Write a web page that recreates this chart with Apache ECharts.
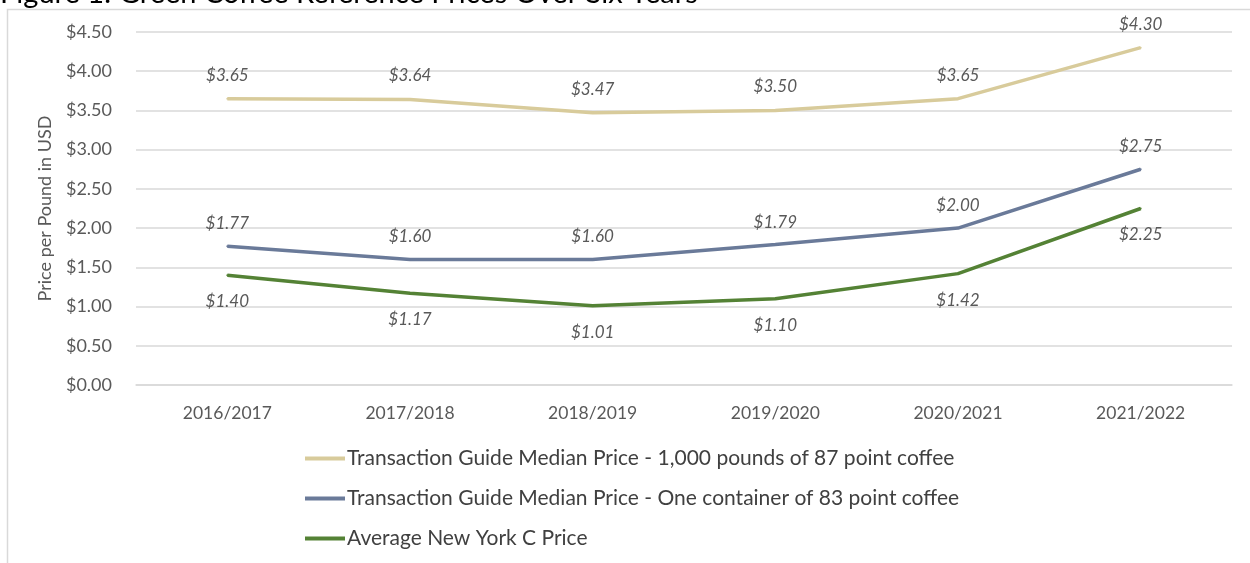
<!DOCTYPE html>
<html>
<head>
<meta charset="utf-8">
<script src="https://cdn.jsdelivr.net/npm/echarts@6/dist/echarts.min.js"></script>
<style>html,body{margin:0;padding:0;background:#fff;}#c{width:1250px;height:563px;}</style>
</head>
<body>
<div id="c"></div>
<script>
const categories = ['2016/2017','2017/2018','2018/2019','2019/2020','2020/2021','2021/2022'];
const seriesNames = [
  'Transaction Guide Median Price - 1,000 pounds of 87 point coffee',
  'Transaction Guide Median Price - One container of 83 point coffee',
  'Average New York C Price'
];
const price87 = [3.65, 3.64, 3.47, 3.50, 3.65, 4.30];
const price83 = [1.77, 1.60, 1.60, 1.79, 2.00, 2.75];
const nyC = [1.40, 1.17, 1.01, 1.10, 1.42, 2.25];
const titleText = 'Figure 1: Green Coffee Reference Prices Over Six Years';
const yAxisName = 'Price per Pound in USD';

const FONT = 'Lato, "Open Sans", sans-serif';
const fmt = v => '$' + Number(v).toFixed(2);

function mk(name, data, color, pos, dist) {
  return {
    name, type: 'line', data, smooth: false,
    symbol: 'circle', symbolSize: 2, showSymbol: true,
    lineStyle: { color, width: 3.5 },
    itemStyle: { color },
    label: {
      show: true, position: pos, distance: dist,
      formatter: p => fmt(p.value),
      fontFamily: FONT, fontSize: 17, fontStyle: 'italic', color: '#595959'
    },
    emphasis: { disabled: true }
  };
}

const chart = echarts.init(document.getElementById('c'));
chart.setOption({
  animation: false,
  backgroundColor: '#fff',
  graphic: [
    { type: 'rect', shape: { x: 7.5, y: 9.5, width: 1400, height: 700 },
      style: { fill: 'none', stroke: '#D9D9D9', lineWidth: 1.5 }, silent: true, z: -10 },
    { type: 'text', left: 0, top: -21,
      style: { text: titleText, font: '29px ' + FONT, fill: '#000' }, silent: true }
  ],
  grid: { left: 136, right: 18, top: 32, bottom: 178 },
  legend: {
    orient: 'vertical', left: 305, top: 448, padding: 0,
    itemWidth: 40, itemHeight: 4, itemGap: 19, icon: 'rect',
    textStyle: { fontFamily: FONT, fontSize: 21, color: '#404040', padding: [0, 0, 0, -3] },
    data: seriesNames
  },
  xAxis: {
    type: 'category', data: categories, boundaryGap: true,
    axisLine: { show: true, lineStyle: { color: '#D9D9D9', width: 1.5 } },
    axisTick: { show: false },
    axisLabel: { fontFamily: FONT, fontSize: 17.5, color: '#595959', margin: 19 }
  },
  yAxis: {
    type: 'value', min: 0, max: 4.5, interval: 0.5,
    name: yAxisName, nameLocation: 'middle', nameGap: 82, nameRotate: 90,
    nameTextStyle: { fontFamily: FONT, fontSize: 18, color: '#595959' },
    axisLine: { show: false }, axisTick: { show: false },
    axisLabel: { fontFamily: FONT, fontSize: 18, color: '#595959', margin: 24, formatter: fmt },
    splitLine: { lineStyle: { color: '#D9D9D9', width: 1.5 } }
  },
  series: [
    mk(seriesNames[0], price87, '#D8CB9B', 'top', 14),
    mk(seriesNames[1], price83, '#6A7A99', 'top', 13),
    mk(seriesNames[2], nyC, '#548235', 'bottom', 17)
  ]
});
</script>
</body>
</html>
